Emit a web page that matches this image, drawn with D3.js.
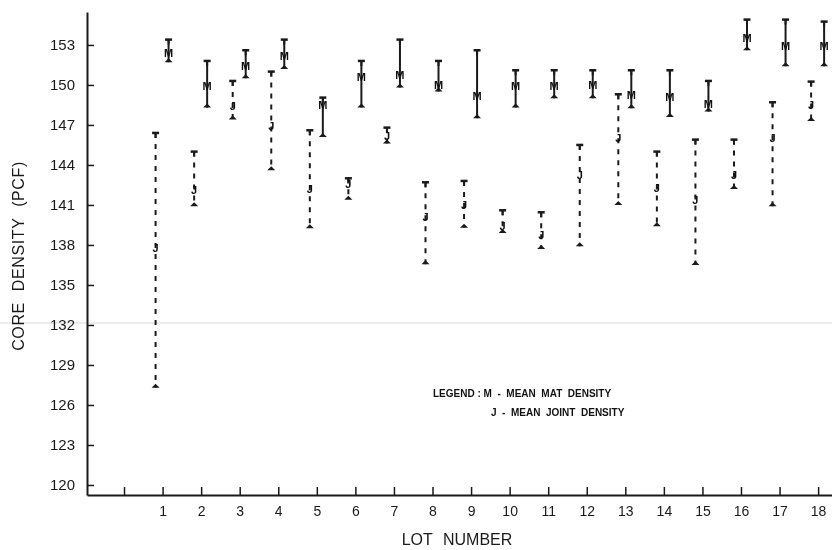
<!DOCTYPE html>
<html>
<head>
<meta charset="utf-8">
<script src="https://cdn.jsdelivr.net/npm/d3@7"></script>
<style>
  body { margin: 0; background: #fff; }
  svg { display: block; will-change: transform; }
  .axis text { font-family: "Liberation Sans", Arial, sans-serif; fill: #1a1a1a; }
  .axis path, .axis line { stroke: #1a1a1a; }
</style>
</head>
<body>
<script>
// lot numbers on the x axis
const lots = [1, 2, 3, 4, 5, 6, 7, 8, 9, 10, 11, 12, 13, 14, 15, 16, 17, 18];

// M - mean mat density, with its range
const matMean = [152.4, 149.9, 151.4, 152.2, 148.5, 150.6, 150.75, 150.0, 149.2, 149.9, 149.9, 150.0, 149.25, 149.1, 148.6, 153.5, 152.9, 152.9];
const matHigh = [153.4, 151.8, 152.6, 153.4, 149.05, 151.8, 153.4, 151.8, 152.6, 151.1, 151.1, 151.1, 151.1, 151.1, 150.3, 154.9, 154.9, 154.75];
const matLow  = [151.7, 148.3, 150.5, 151.2, 146.1, 148.3, 149.8, 149.5, 147.5, 148.3, 149.0, 149.0, 148.25, 147.6, 148.0, 152.6, 151.4, 151.4];

// J - mean joint density, with its range
const jointMean = [137.8, 142.1, 148.4, 146.9, 142.2, 142.6, 146.2, 140.1, 141.0, 139.4, 138.75, 143.25, 146.0, 142.25, 141.4, 143.25, 146.0, 148.5];
const jointHigh = [146.4, 145.0, 150.3, 151.0, 146.6, 143.0, 146.8, 142.7, 142.8, 140.6, 140.45, 145.5, 149.3, 145.0, 145.9, 145.9, 148.7, 150.25];
const jointLow  = [127.3, 140.9, 147.4, 143.6, 139.25, 141.4, 145.6, 136.55, 139.3, 138.9, 137.7, 137.9, 141.0, 139.4, 136.5, 142.2, 140.9, 147.3];

// y tick labels
const yTicks = [120, 123, 126, 129, 132, 135, 138, 141, 144, 147, 150, 153];
const xTicks = [0].concat(lots);

const width = 832, height = 550;

const svg = d3.select("body").append("svg")
  .attr("width", width)
  .attr("height", height);

const x = d3.scaleLinear().domain([-0.96, 18.36]).range([87, 832]);
const y = d3.scaleLinear().domain([119.25, 155.47]).range([495, 12]);

// faint fold line across the sheet
svg.append("line")
  .attr("x1", 0).attr("x2", width)
  .attr("y1", y(132.15)).attr("y2", y(132.15))
  .attr("stroke", "#e6e6e6").attr("stroke-width", 1.5);

const xAxis = d3.axisBottom(x)
  .tickValues(xTicks)
  .tickSizeInner(-8)
  .tickSizeOuter(0)
  .tickPadding(11)
  .tickFormat(d => d === 0 ? "" : d);

const gx = svg.append("g")
  .attr("class", "axis")
  .attr("transform", "translate(0," + 495 + ")")
  .call(xAxis);
gx.select(".domain").attr("stroke-width", 2);
gx.selectAll(".tick line").attr("stroke-width", 1.5);
gx.selectAll("text").style("font-size", "14px");

const yAxis = d3.axisLeft(y)
  .tickValues(yTicks)
  .tickSizeInner(-7)
  .tickSizeOuter(0)
  .tickPadding(12);

const gy = svg.append("g")
  .attr("class", "axis")
  .attr("transform", "translate(87,0)")
  .call(yAxis);
gy.select(".domain").attr("stroke-width", 2);
gy.selectAll(".tick line").attr("stroke-width", 1.5);
gy.selectAll("text").style("font-size", "15px");

// axis titles
svg.append("text")
  .attr("x", 457).attr("y", 545)
  .attr("text-anchor", "middle")
  .style("font-family", "Liberation Sans, Arial, sans-serif")
  .style("font-size", "16px")
  .style("word-spacing", "6px")
  .attr("fill", "#1a1a1a")
  .text("LOT NUMBER");

svg.append("text")
  .attr("transform", "translate(24,256) rotate(-90)")
  .attr("text-anchor", "middle")
  .style("font-family", "Liberation Sans, Arial, sans-serif")
  .style("font-size", "16px")
  .style("letter-spacing", "0.6px")
  .style("word-spacing", "6px")
  .attr("fill", "#1a1a1a")
  .text("CORE DENSITY (PCF)");

// range bars
const rows = lots.map((d, i) => ({
  lot: d,
  m: matMean[i], mh: matHigh[i], ml: matLow[i],
  j: jointMean[i], jh: jointHigh[i], jl: jointLow[i]
}));

function drawSeries(cls, dx, key, hi, lo, dash, letter) {
  const g = svg.append("g").attr("class", cls);
  const grp = g.selectAll("g")
    .data(rows)
    .join("g")
    .attr("transform", d => "translate(" + (x(d.lot) + dx) + ",0)");

  grp.append("line")
    .attr("y1", d => y(d[hi]))
    .attr("y2", d => y(d[lo]))
    .attr("stroke", "#1a1a1a")
    .attr("stroke-width", 2)
    .attr("stroke-dasharray", dash);

  // top cap
  grp.append("line")
    .attr("x1", -3.5).attr("x2", 3.5)
    .attr("y1", d => y(d[hi])).attr("y2", d => y(d[hi]))
    .attr("stroke", "#1a1a1a").attr("stroke-width", 2.5);
  grp.append("line")
    .attr("y1", d => y(d[hi])).attr("y2", d => y(d[hi]) + 5)
    .attr("stroke", "#1a1a1a").attr("stroke-width", 2);

  // bottom cap
  grp.append("path")
    .attr("d", d => {
      const b = y(d[lo]);
      return "M-4," + b + "L4," + b + "L0," + (b - 4) + "Z";
    })
    .attr("fill", "#1a1a1a");

  grp.append("text")
    .attr("y", d => y(d[key]))
    .attr("dy", "0.36em")
    .attr("text-anchor", "middle")
    .style("font-family", "Liberation Sans, Arial, sans-serif")
    .style("font-size", "11px")
    .style("font-weight", "bold")
    .attr("fill", "#111")
    .text(letter);
}

drawSeries("joint", -7, "j", "jh", "jl", "5,6", "J");
drawSeries("mat", 6, "m", "mh", "ml", null, "M");

// legend
const legend = svg.append("g")
  .style("font-family", "Liberation Sans, Arial, sans-serif")
  .style("font-size", "10px")
  .style("font-weight", "bold")
  .attr("fill", "#111");
legend.append("text").attr("x", 433).attr("y", 397)
  .attr("xml:space", "preserve")
  .text("LEGEND : M  -  MEAN  MAT  DENSITY");
legend.append("text").attr("x", 491).attr("y", 416)
  .attr("xml:space", "preserve")
  .text("J  -  MEAN  JOINT  DENSITY");
</script>
</body>
</html>
